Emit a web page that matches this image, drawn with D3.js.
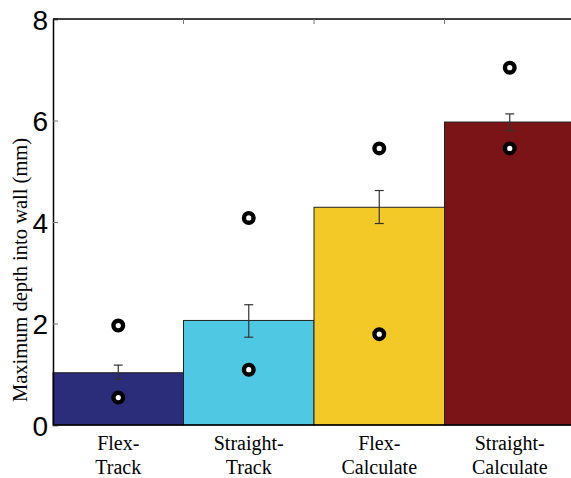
<!DOCTYPE html>
<html>
<head>
<meta charset="utf-8">
<script src="https://cdn.jsdelivr.net/npm/d3@7"></script>
<style>
  body { margin: 0; background: #fff; }
  svg { display: block; }
  .serif { font-family: "Times New Roman", Times, "Liberation Serif", serif; }
</style>
</head>
<body>
<div id="chart"></div>
<script>
var categories = ["Flex-Track", "Straight-Track", "Flex-Calculate", "Straight-Calculate"];
var labelLines = [["Flex-", "Track"], ["Straight-", "Track"], ["Flex-", "Calculate"], ["Straight-", "Calculate"]];
var means = [1.03, 2.06, 4.29, 5.97];
var errHigh = [1.18, 2.37, 4.62, 6.13];
var errLow = [0.90, 1.73, 3.97, 5.80];
var pointsHigh = [1.96, 4.08, 5.45, 7.04];
var pointsLow = [0.54, 1.09, 1.79, 5.45];
var yTicks = [0, 2, 4, 6, 8];

var colors = ["#2b2c7a", "#4fc8e3", "#f3c928", "#7a1416"];

function plot() {
	var width = 571, height = 478;
	var margin = {top: 19, right: -4, bottom: 53, left: 53};

	var svg = d3.select("#chart").append("svg")
	.attr("width", width)
	.attr("height", height);

	var x = d3.scaleBand()
	.domain(categories)
	.range([margin.left, width - margin.right])
	.padding(0);

	var y = d3.scaleLinear()
	.domain([0, 8])
	.range([height - margin.bottom, margin.top]);

	// bars
	svg.selectAll(".bar")
	.data(categories)
	.enter().append("rect")
	.attr("class", "bar")
	.attr("x", function(d) { return x(d); })
	.attr("y", function(d, i) { return y(means[i]); })
	.attr("width", x.bandwidth())
	.attr("height", function(d, i) { return y(0) - y(means[i]); })
	.style("fill", function(d, i) { return colors[i]; })
	.style("stroke", "#222")
	.style("stroke-width", 1);

	// error bars
	var eb = svg.selectAll(".err")
	.data(categories)
	.enter().append("g")
	.attr("class", "err")
	.style("stroke", "#333")
	.style("stroke-width", 1.2);
	var cx = function(d) { return x(d) + x.bandwidth() / 2; };
	eb.append("line")
	.attr("x1", cx).attr("x2", cx)
	.attr("y1", function(d, i) { return y(errHigh[i]); })
	.attr("y2", function(d, i) { return y(errLow[i]); });
	eb.append("line")
	.attr("x1", function(d) { return cx(d) - 4.5; })
	.attr("x2", function(d) { return cx(d) + 4.5; })
	.attr("y1", function(d, i) { return y(errHigh[i]); })
	.attr("y2", function(d, i) { return y(errHigh[i]); });
	eb.append("line")
	.attr("x1", function(d) { return cx(d) - 4.5; })
	.attr("x2", function(d) { return cx(d) + 4.5; })
	.attr("y1", function(d, i) { return y(errLow[i]); })
	.attr("y2", function(d, i) { return y(errLow[i]); });

	// individual points
	[pointsHigh, pointsLow].forEach(function(pts) {
		svg.selectAll(null)
		.data(categories)
		.enter().append("circle")
		.attr("cx", cx)
		.attr("cy", function(d, i) { return y(pts[i]); })
		.attr("r", 4.8)
		.style("fill", "#fff")
		.style("stroke", "#000")
		.style("stroke-width", 4.4);
	});

	// axes
	var yAxis = svg.append("g")
	.attr("transform", "translate(" + margin.left + ",0)")
	.call(d3.axisLeft(y).tickValues(yTicks).tickSize(-5).tickPadding(5).tickFormat(d3.format("d")));
	yAxis.select(".domain").attr("stroke", "#000").attr("stroke-width", 1.5);
	yAxis.selectAll(".tick line").attr("stroke", "#777");
	yAxis.selectAll("text")
	.attr("font-family", "Liberation Sans, Arial, sans-serif")
	.attr("font-size", "28px")
	.attr("dy", "0.36em")
	.attr("fill", "#000");

	var bounds = categories.slice(1).map(function(d) { return x(d); });

	svg.append("line")
	.attr("x1", margin.left).attr("x2", width)
	.attr("y1", y(8)).attr("y2", y(8))
	.style("stroke", "#000").style("stroke-width", 1.5);
	svg.append("line")
	.attr("x1", margin.left).attr("x2", width)
	.attr("y1", y(0)).attr("y2", y(0))
	.style("stroke", "#000").style("stroke-width", 1.5);

	svg.selectAll(".ttick")
	.data(bounds)
	.enter().append("line")
	.attr("x1", function(d) { return d; }).attr("x2", function(d) { return d; })
	.attr("y1", y(8)).attr("y2", y(8) + 5)
	.style("stroke", "#777");

	// category labels
	var lab = svg.selectAll(".xlab")
	.data(categories)
	.enter().append("text")
	.attr("class", "xlab serif")
	.attr("text-anchor", "middle")
	.attr("font-size", "20px")
	.attr("fill", "#000");
	lab.each(function(d, i) {
		var t = d3.select(this);
		labelLines[i].forEach(function(line, j) {
			t.append("tspan")
			.attr("x", cx(d))
			.attr("y", y(0) + 25 + j * 24)
			.text(line);
		});
	});

	// y label
	svg.append("text")
	.attr("class", "serif")
	.attr("transform", "translate(27," + 270 + ") rotate(-90)")
	.attr("text-anchor", "middle")
	.attr("font-size", "20.5px")
	.attr("fill", "#000")
	.text("Maximum depth into wall (mm)");
}

document.addEventListener("DOMContentLoaded", function() {
	plot();
});
</script>
</body>
</html>
